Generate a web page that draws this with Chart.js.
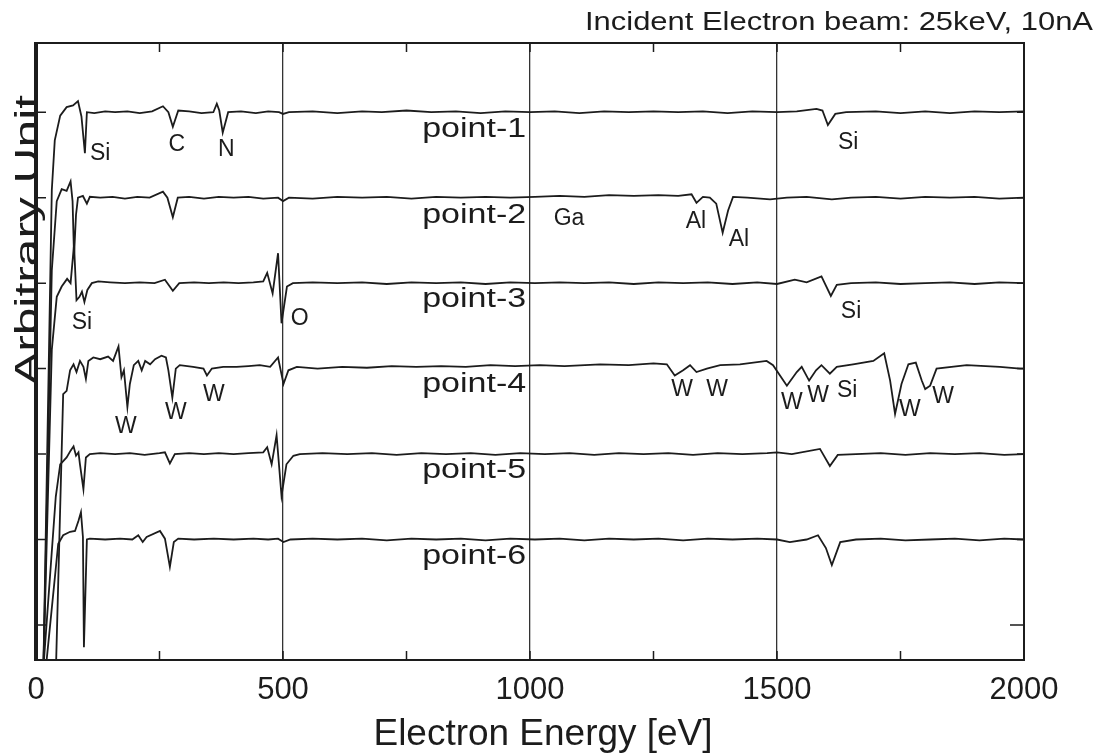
<!DOCTYPE html>
<html>
<head>
<meta charset="utf-8">
<script src="https://cdn.jsdelivr.net/npm/chart.js@4/dist/chart.umd.min.js"></script>
<style>
  html, body { margin: 0; padding: 0; background: #fff; }
</style>
</head>
<body>
<canvas id="spectra" width="1099" height="754"></canvas>
<script>
// Auger spectra, intensity offsets (arbitrary units, 1 = one trace spacing)
const seriesNames = ['point-1', 'point-2', 'point-3', 'point-4', 'point-5', 'point-6'];
const offsets = [6, 5, 4, 3, 2, 1];

const point1 = [[15,-6.5],[32,-0.91],[38,-0.33],[49,-0.04],[62,0.06],[75,0.08],[85,0.13],[92,-0.05],[99,-0.48],[103,0.0],[118,-0.01],[140,0.01],[160,0.0],[185,0.01],[210,-0.01],[235,0.01],[257,0.07],[268,0.0],[277,-0.17],[288,0.02],[310,0.01],[335,-0.01],[359,0.0],[366,0.1],[371,0.02],[378,-0.24],[389,0.0],[415,0.01],[445,-0.01],[470,0.01],[492,0.0],[500,-0.02],[512,0.0],[560,0.01],[610,-0.01],[660,0.01],[700,0.0],[750,0.02],[800,0.0],[850,0.01],[900,-0.01],[950,0.01],[1000,0.0],[1050,0.01],[1100,-0.01],[1150,0.01],[1200,0.0],[1250,0.01],[1300,0.0],[1350,0.01],[1400,-0.01],[1450,0.01],[1500,0.0],[1540,0.01],[1580,0.04],[1592,0.02],[1603,-0.15],[1618,-0.02],[1640,0.0],[1700,0.01],[1750,-0.01],[1800,0.01],[1850,-0.01],[1900,0.01],[1950,0.0],[2000,0.01]];

const point2 = [[15,-5.5],[32,-0.85],[42,-0.04],[52,0.1],[62,0.08],[70,0.19],[74,-0.04],[77,-0.68],[81,-0.2],[85,0.0],[95,0.02],[103,-0.07],[109,0.01],[130,0.0],[155,0.01],[180,-0.01],[205,0.01],[230,0.0],[257,0.07],[266,0.0],[277,-0.23],[287,0.0],[310,0.01],[340,-0.01],[370,0.01],[400,0.0],[430,0.01],[460,-0.01],[490,0.0],[500,-0.04],[512,0.0],[560,-0.01],[610,0.01],[660,0.0],[710,0.01],[760,-0.01],[810,0.01],[860,0.0],[910,0.01],[960,0.0],[1010,0.01],[1060,0.02],[1110,0.01],[1160,0.03],[1210,0.02],[1260,0.03],[1300,0.02],[1327,0.04],[1337,-0.06],[1350,0.01],[1364,0.0],[1377,-0.07],[1390,-0.41],[1401,-0.15],[1411,0.01],[1440,0.0],[1486,-0.02],[1520,0.0],[1560,0.01],[1611,-0.02],[1650,0.0],[1700,0.01],[1750,-0.01],[1800,0.01],[1850,0.0],[1900,0.01],[1950,-0.01],[2000,0.0]];

const point3 = [[15,-4.5],[32,-0.78],[42,-0.16],[52,-0.04],[63,0.05],[70,0.0],[77,0.45],[82,-0.2],[88,-0.16],[93,-0.1],[98,-0.22],[104,-0.08],[113,0.0],[126,0.02],[150,0.01],[180,0.0],[210,0.01],[240,0.0],[261,0.04],[277,-0.09],[290,0.0],[320,0.01],[350,0.0],[380,0.01],[410,0.0],[440,0.01],[460,0.02],[468,0.12],[479,-0.12],[490,0.35],[497,-0.47],[508,-0.04],[520,0.0],[560,0.01],[610,0.0],[660,0.01],[710,-0.01],[760,0.01],[810,0.0],[860,0.01],[910,-0.01],[960,0.01],[1010,0.0],[1060,0.01],[1110,0.0],[1160,0.01],[1210,-0.01],[1260,0.01],[1310,0.0],[1360,0.01],[1410,-0.01],[1460,0.01],[1500,-0.01],[1536,0.04],[1560,0.01],[1590,0.08],[1609,-0.15],[1621,-0.02],[1650,0.0],[1700,0.01],[1750,-0.01],[1800,0.0],[1850,0.01],[1900,-0.01],[1950,0.01],[2000,0.0]];

const point4 = [[40,-3.6],[55,-0.3],[62,-0.26],[69,-0.02],[76,0.05],[82,-0.04],[89,0.09],[96,0.02],[101,-0.12],[106,0.09],[116,0.13],[130,0.11],[146,0.14],[156,0.09],[167,0.26],[173,-0.1],[178,-0.02],[185,-0.45],[190,-0.18],[198,0.04],[207,0.09],[214,-0.02],[221,0.09],[231,0.05],[241,0.11],[254,0.15],[263,0.13],[268,-0.02],[276,-0.34],[283,0.0],[291,0.04],[318,0.02],[339,0.0],[346,-0.08],[356,0.0],[379,0.02],[406,0.02],[430,0.03],[453,0.04],[474,0.02],[490,0.13],[501,-0.18],[511,-0.02],[528,0.02],[570,0.0],[620,0.02],[670,0.01],[720,0.03],[770,0.02],[820,0.03],[870,0.02],[920,0.04],[970,0.03],[1020,0.04],[1070,0.03],[1142,0.05],[1200,0.04],[1250,0.06],[1277,0.05],[1293,-0.08],[1310,-0.02],[1324,0.04],[1337,-0.04],[1358,0.0],[1385,0.04],[1425,0.05],[1479,0.09],[1492,0.04],[1520,-0.2],[1540,-0.04],[1550,0.02],[1565,-0.14],[1579,-0.02],[1590,0.04],[1607,-0.06],[1621,0.02],[1654,0.05],[1695,0.09],[1717,0.18],[1729,-0.14],[1739,-0.53],[1752,-0.18],[1766,0.05],[1781,0.07],[1793,-0.14],[1800,-0.24],[1810,-0.2],[1823,0.0],[1884,0.04],[1951,0.02],[1992,0.0],[2000,0.0]];

const point5 = [[15,-2.5],[40,-0.5],[49,-0.12],[62,-0.04],[70,0.04],[76,0.09],[81,-0.02],[86,0.02],[89,-0.12],[96,-0.41],[101,-0.04],[109,0.0],[130,0.01],[160,0.0],[190,0.01],[220,-0.01],[250,0.01],[261,0.02],[271,-0.11],[281,0.0],[310,0.01],[340,0.0],[370,0.01],[400,0.0],[430,0.01],[460,0.02],[468,0.08],[477,-0.12],[487,0.22],[497,-0.49],[507,-0.12],[521,-0.02],[534,0.0],[580,0.01],[630,0.0],[680,0.01],[730,-0.01],[780,0.01],[830,0.0],[880,0.01],[930,-0.01],[980,0.01],[1030,0.0],[1080,0.01],[1130,-0.01],[1180,0.01],[1230,0.0],[1280,0.01],[1330,-0.01],[1380,0.01],[1430,0.0],[1480,0.01],[1500,0.02],[1530,0.0],[1587,0.06],[1607,-0.14],[1623,-0.01],[1660,0.0],[1710,0.01],[1760,-0.01],[1810,0.01],[1860,0.0],[1910,0.01],[1960,-0.01],[2000,0.0]];

const point6 = [[20,-1.5],[45,-0.05],[55,0.05],[69,0.09],[79,0.1],[86,0.22],[91,0.32],[95,0.03],[97,-1.26],[103,0.0],[109,0.01],[140,0.0],[170,0.01],[195,0.0],[207,0.05],[216,-0.03],[224,0.03],[251,0.1],[261,0.01],[271,-0.32],[279,-0.03],[288,0.01],[320,0.0],[360,0.01],[400,0.0],[440,0.01],[470,0.0],[490,0.01],[501,-0.03],[515,0.0],[560,0.01],[610,0.0],[660,0.01],[710,-0.01],[760,0.01],[810,0.0],[860,0.01],[910,-0.01],[960,0.01],[1010,0.0],[1060,0.01],[1110,-0.01],[1160,0.01],[1210,0.0],[1260,0.01],[1310,-0.01],[1360,0.01],[1410,0.0],[1460,0.01],[1500,0.0],[1526,-0.03],[1560,0.0],[1583,0.05],[1599,-0.1],[1611,-0.3],[1628,-0.03],[1660,0.0],[1710,0.01],[1760,-0.01],[1810,0.0],[1860,0.01],[1910,-0.01],[1960,0.01],[2000,0.0]];

const spectra = [point1, point2, point3, point4, point5, point6];

// peak labels: [text, energy eV, y value]
const peakLabels = [
  ['Si', 130, 5.52], ['C', 285, 5.62], ['N', 385, 5.56], ['Si', 1644, 5.64],
  ['Ga', 1079, 4.75], ['Al', 1336, 4.72], ['Al', 1423, 4.51],
  ['Si', 93, 3.54], ['O', 534, 3.59], ['Si', 1650, 3.67],
  ['W', 182, 2.32], ['W', 283, 2.49], ['W', 360, 2.70], ['W', 1308, 2.75], ['W', 1379, 2.75],
  ['W', 1530, 2.60], ['W', 1583, 2.68], ['Si', 1642, 2.74], ['W', 1769, 2.52], ['W', 1836, 2.67]
];
// trace names sit in the middle of each trace
const nameX = 887;
const nameY = [5.80, 4.79, 3.81, 2.81, 1.81, 0.80];

const xTicks = [0, 500, 1000, 1500, 2000];
const FONT = '"Liberation Sans", Arial, Helvetica, sans-serif';
const INK = '#1c1c1c';

function fitText(ctx, text, x, y, size, width) {
    ctx.font = size + 'px ' + FONT;
    const w = ctx.measureText(text).width;
    ctx.save();
    ctx.translate(x, y);
    if (width) ctx.scale(width / w, 1);
    ctx.fillText(text, 0, 0);
    ctx.restore();
}

// frame, inside ticks and all the text
const decorations = {
    id: 'decorations',
    afterDatasetsDraw(chart) {
        const ctx = chart.ctx;
        const area = chart.chartArea;
        const xs = chart.scales.x;
        const ys = chart.scales.y;
        ctx.save();
        ctx.strokeStyle = INK;
        ctx.lineWidth = 2;
        ctx.strokeRect(area.left, area.top, area.right - area.left, area.bottom - area.top);
        ctx.lineWidth = 4;
        ctx.beginPath();
        ctx.moveTo(area.left, area.top - 1);
        ctx.lineTo(area.left, area.bottom + 1);
        ctx.stroke();

        // short ticks every 250 eV, top and bottom
        ctx.lineWidth = 1.5;
        ctx.beginPath();
        for (let e = 250; e < 2000; e += 250) {
            const px = xs.getPixelForValue(e);
            ctx.moveTo(px, area.bottom);
            ctx.lineTo(px, area.bottom - 9);
            ctx.moveTo(px, area.top);
            ctx.lineTo(px, area.top + 9);
        }
        // y ticks at every trace level
        for (let v = 0; v <= 6; v++) {
            const py = ys.getPixelForValue(v);
            ctx.moveTo(area.left, py);
            ctx.lineTo(area.left + 10, py);
            ctx.moveTo(area.right, py);
            ctx.lineTo(area.right - (v === 0 ? 14 : 7), py);
        }
        ctx.stroke();

        ctx.fillStyle = INK;
        ctx.textAlign = 'center';
        ctx.textBaseline = 'middle';
        peakLabels.forEach(([t, e, v]) => {
            fitText(ctx, t, xs.getPixelForValue(e), ys.getPixelForValue(v), 23);
        });
        seriesNames.forEach((n, i) => {
            fitText(ctx, n, xs.getPixelForValue(nameX), ys.getPixelForValue(nameY[i]), 27, 104);
        });

        fitText(ctx, 'Incident Electron beam: 25keV, 10nA', 839, 23, 26, 508);
        fitText(ctx, 'Electron Energy [eV]', 543, 735, 37, 339);
        ctx.save();
        ctx.translate(29, 240);
        ctx.rotate(-Math.PI / 2);
        fitText(ctx, 'Arbitrary Unit', 0, 0, 34, 290);
        ctx.restore();
        ctx.restore();
    }
};

const datasets = spectra.map((s, i) => ({
    label: seriesNames[i],
    data: s.map(([e, d]) => ({ x: e, y: d + offsets[i] })),
    borderColor: INK,
    borderWidth: 1.8,
    pointRadius: 0,
    tension: 0,
    fill: false
}));

new Chart(document.getElementById('spectra').getContext('2d'), {
    type: 'line',
    data: { datasets: datasets },
    options: {
        responsive: false,
        animation: false,
        devicePixelRatio: 1,
        layout: { padding: { top: 43, right: 75, left: 0, bottom: 0 } },
        plugins: { legend: { display: false }, tooltip: { enabled: false } },
        scales: {
            x: {
                type: 'linear',
                min: 0,
                max: 2000,
                afterBuildTicks: (scale) => { scale.ticks = xTicks.map(v => ({ value: v })); },
                afterFit: (scale) => { scale.height = 94; },
                border: { display: false },
                grid: {
                    drawTicks: false,
                    color: (c) => (c.tick && c.tick.value > 0 && c.tick.value < 2000) ? '#333' : 'rgba(0,0,0,0)',
                    lineWidth: 1.3
                },
                ticks: {
                    padding: 12,
                    color: INK,
                    maxRotation: 0,
                    autoSkip: false,
                    callback: (v) => String(v),
                    font: { family: FONT, size: 31 }
                }
            },
            y: {
                type: 'linear',
                min: -0.41,
                max: 6.81,
                afterFit: (scale) => { scale.width = 36; },
                border: { display: false },
                grid: { display: false },
                ticks: { display: false }
            }
        }
    },
    plugins: [decorations]
});
</script>
</body>
</html>
